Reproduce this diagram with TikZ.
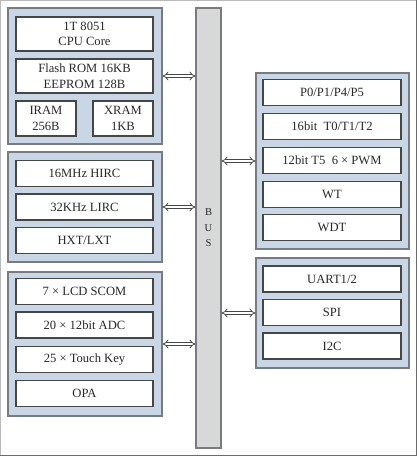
\documentclass[tikz,border=0pt]{standalone}
\usepackage{fontspec}
\setmainfont{Liberation Serif}
\usetikzlibrary{arrows.meta}
\definecolor{grpfill}{RGB}{201,214,230}
\definecolor{grpline}{RGB}{120,124,130}
\definecolor{unitline}{RGB}{70,70,70}
\definecolor{busfill}{RGB}{216,216,216}
\definecolor{txtgray}{RGB}{40,40,40}
\begin{document}
\begin{tikzpicture}[x=1pt, y=-1pt, font=\fontsize{12.6}{15.5}\selectfont, text=txtgray,
    group/.style={draw=grpline, fill=grpfill, line width=1.1pt, inner sep=0pt},
    unit/.style={draw=unitline, fill=white, line width=1.3pt, minimum width=137pt, minimum height=26pt, inner sep=0pt, align=center},
    busbar/.style={draw=grpline, fill=busfill, line width=1.1pt, minimum width=25pt, minimum height=440pt, inner sep=0pt, align=center, font=\fontsize{10.5}{15.5}\selectfont},
    link/.style={draw=unitline, line width=0.8pt, double=white, double distance=2.2pt, {Implies}-{Implies}}]
    \useasboundingbox (0,0) rectangle (419,457);
    \draw[gray!55, line width=1pt] (0.5,0.5) rectangle (416.5,455.5);
    \draw[gray!85!black, line width=1.4pt] (416.5,0) -- (416.5,455.5) -- (0,455.5);

    \node[busbar] (bus) at (208.5,228) {B\\U\\S};

    \node[group, minimum width=154pt, minimum height=136pt] (core) at (85,76) {};
    \node[unit, minimum height=34pt] (cpu) at (84.5,34) {1T 8051\\CPU Core};
    \node[unit, minimum height=34pt] (flash) at (84.5,76) {Flash ROM 16KB\\EEPROM 128B};
    \node[unit, minimum width=60pt, minimum height=35pt] (iram) at (46,118.5) {IRAM\\256B};
    \node[unit, minimum width=60pt, minimum height=35pt] (xram) at (123,118.5) {XRAM\\1KB};

    \node[group, minimum width=154pt, minimum height=110pt] (clock) at (85,207) {};
    \node[unit] (hirc) at (84.5,173.5) {16MHz HIRC};
    \node[unit] (lirc) at (84.5,207) {32KHz LIRC};
    \node[unit] (hxt) at (84.5,240.5) {HXT/LXT};

    \node[group, minimum width=154pt, minimum height=144pt] (analog) at (85,344) {};
    \node[unit] (lcd) at (84.5,291.5) {7 × LCD SCOM};
    \node[unit] (adc) at (84.5,325) {20 × 12bit ADC};
    \node[unit] (touch) at (84.5,359.5) {25 × Touch Key};
    \node[unit] (opa) at (84.5,393.5) {OPA};

    \node[group, minimum width=153pt, minimum height=176pt] (timers) at (332.5,161) {};
    \node[unit, minimum width=138pt] (port) at (332,92.5) {P0/P1/P4/P5};
    \node[unit, minimum width=138pt] (tim) at (332,126.5) {16bit\enspace T0/T1/T2};
    \node[unit, minimum width=138pt] (pwm) at (332,160.5) {12bit T5\enspace 6 × PWM};
    \node[unit, minimum width=138pt] (wt) at (332,194.5) {WT};
    \node[unit, minimum width=138pt] (wdt) at (332,227.5) {WDT};

    \node[group, minimum width=153pt, minimum height=110pt] (serial) at (332.5,313) {};
    \node[unit, minimum width=138pt] (uart) at (332,279) {UART1/2};
    \node[unit, minimum width=138pt] (spi) at (332,312.5) {SPI};
    \node[unit, minimum width=138pt] (iic) at (332,346) {I2C};

    \draw[link] (core.east) -- (core.east -| bus.west);
    \draw[link] (clock.east) -- (clock.east -| bus.west);
    \draw[link] (analog.east) -- (analog.east -| bus.west);
    \draw[link] (timers.west) -- (timers.west -| bus.east);
    \draw[link] (serial.west) -- (serial.west -| bus.east);
\end{tikzpicture}
\end{document}
